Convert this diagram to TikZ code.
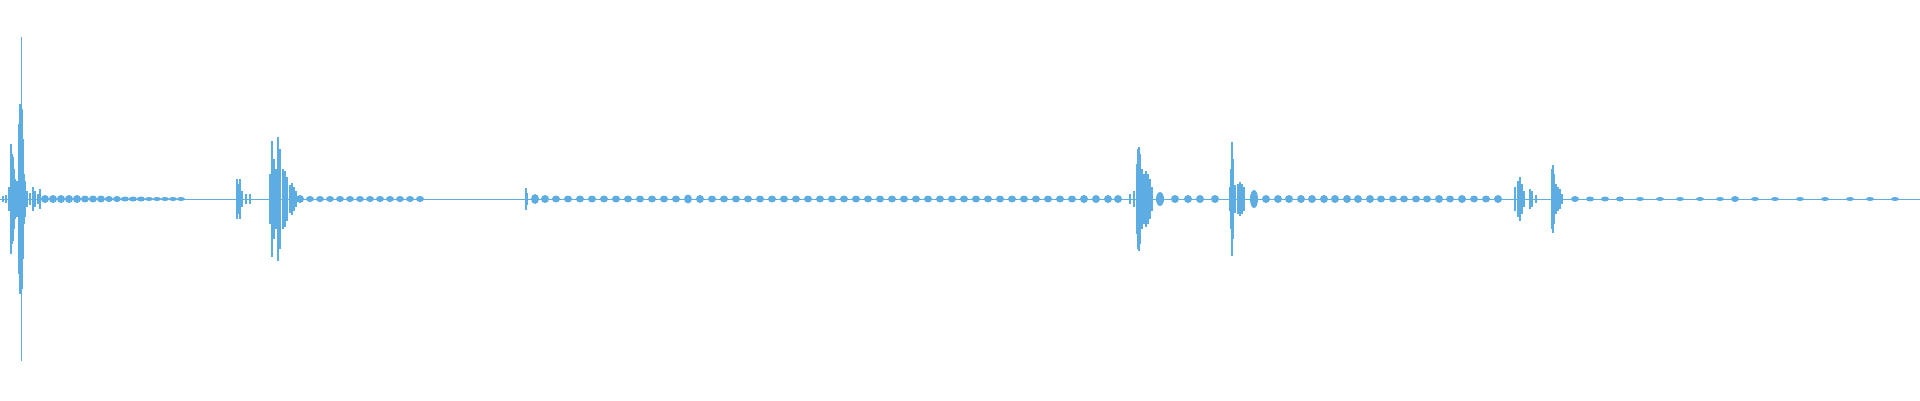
\documentclass[tikz,border=0pt]{standalone}
\definecolor{wave}{HTML}{5DADE2}
\begin{document}
\begin{tikzpicture}[x=1pt,y=1pt,bar/.style={wave,line width=1.3pt},bead/.style={fill=wave,draw=none}]
\useasboundingbox (0,0) rectangle (1920,400);
\fill[white] (0,0) rectangle (1920,400);
\def\cy{201}
\draw[wave,line width=1pt] (0,\cy) -- (1920,\cy);
\draw[wave,line width=0.9pt] (21,\cy-162) -- (21,\cy+162);
% bars: x/half height
\foreach \x/\h in {3/3,6/4,9/12,11/55,12/45,13/42,14/30,15/20,16/10,17/18,19/75,20/95,22/90,23/60,24/25,25/18,27/8,30/6,33/12,35/8,38/5,40/10,
 237/20,238/15,240/20,242/8,246/5,250/5,
 270/25,272/58,274/40,276/30,278/62,280/50,283/30,285/28,287/22,290/14,292/16,294/12,296/8,
 526/11,527/6,
 1130/5,1134/8,1137/35,1138/50,1139/52,1140/45,1142/30,1144/25,1146/28,1148/25,1150/20,1152/12,
 1230/12,1231/30,1232/57,1233/40,1235/14,1238/15,1240/17,1242/15,1244/12,
 1515/12,1518/18,1520/22,1522/15,1524/8,1530/10,1532/8,1536/4,1552/30,1553/34,1554/25,1556/15,1558/12,1560/10,1562/5}
  \draw[bar] (\x,\cy-\h) -- (\x,\cy+\h);
% beads
\foreach \x/\r in {45/4,53/4,61/4,69/4,77/4,85/3.5,93/3.5,101/3.5,109/3,117/3,125/2.5,133/2.5,141/2.5,149/2,157/2,165/2,173/2,181/2,
 300/4,310/3,320/3,330/3,340/3,350/3,360/3,370/3,380/3,390/3,400/3,410/3,420/3,
 535/5,545/4,556/3.5,568/3.5,580/3.5,592/3.5,604/3.5,616/3.5,628/3.5,640/3.5,652/3.5,664/3.5,676/3.5,688/4.5,700/4,712/3.5,724/3.5,736/3.5,748/3.5,760/3.5,772/3.5,784/3.5,796/3.5,808/3.5,820/3.5,832/3.5,844/3.5,856/3.5,868/3.5,880/3.5,892/3.5,904/3.5,916/3.5,928/3.5,940/3.5,952/3.5,964/3.5,976/3.5,988/3.5,1000/3.5,1012/3.5,1024/3.5,1036/3.5,1048/3.5,1060/3.5,1072/3.5,1084/4,1096/4,1108/4,1118/4,
 1160/7,1175/4,1188/4,1200/4,1215/4,1254/9,1266/4,1278/4,1289/4,1301/4,1312/4,1324/4,1335/4,1347/4,1358/4,1370/4,1381/3.5,1393/3.5,1404/3.5,1416/3.5,1427/3.5,1439/4,1450/3.5,1462/4,1474/3.5,1486/3.5,1498/4,
 1575/3,1590/2.5,1605/2.5,1620/2.5,1640/2,1660/2,1680/2,1700/2,1720/2,1735/3,1755/2,1775/2,1800/2,1825/2,1850/2,1870/2,1895/2}
  \fill[bead] (\x,\cy) ellipse [x radius=4, y radius=\r];
\end{tikzpicture}
\end{document}
